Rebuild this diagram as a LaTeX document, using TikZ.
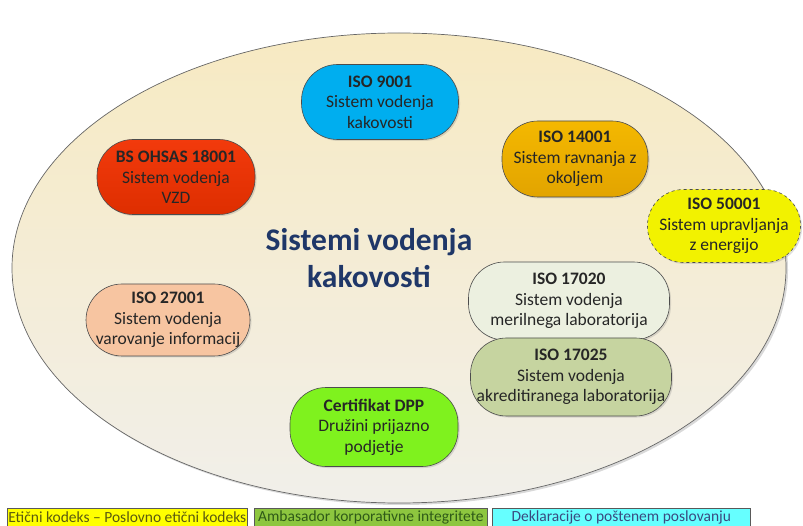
\documentclass[tikz,border=0pt]{standalone}
\usepackage{fontspec}
\setmainfont{Carlito}
\usetikzlibrary{shadows}
\definecolor{ellTop}{HTML}{F7EAC2}
\definecolor{ellBot}{HTML}{F1EFEA}
\definecolor{cBlue}{HTML}{00AEEF}
\definecolor{cGold}{HTML}{F4B800}
\definecolor{cGoldB}{HTML}{E2A400}
\definecolor{cRed}{HTML}{F23A0C}
\definecolor{cRedB}{HTML}{DE2E00}
\definecolor{cYel}{HTML}{F2F200}
\definecolor{cPale}{HTML}{ECF0E0}
\definecolor{cOlive}{HTML}{C6D4A0}
\definecolor{cPeach}{HTML}{F7C5A1}
\definecolor{cLime}{HTML}{7FF21E}
\definecolor{cTitle}{HTML}{1F3768}
\definecolor{bYel}{HTML}{FFFF00}
\definecolor{bGreen}{HTML}{8DC63F}
\definecolor{bCyan}{HTML}{66FFFF}
\definecolor{tYel}{HTML}{5A5A10}
\definecolor{tGreen}{HTML}{2F5A18}
\definecolor{tCyan}{HTML}{3A4A80}
\tikzset{
  pill/.style={draw=black!70, line width=0.6pt, rounded corners=36pt,
    align=center, inner sep=0pt, font=\fontsize{17.5}{20.5}\selectfont,
    text=black!85, drop shadow={shadow xshift=1.5pt, shadow yshift=-1.5pt, opacity=0.25}},
  legend/.style={draw=black!65, line width=0.6pt, inner sep=0pt, minimum height=18pt,
    font=\fontsize{15.5}{17}\selectfont}
}
\begin{document}
\begin{tikzpicture}[x=1pt,y=-1pt]
\useasboundingbox (0,0) rectangle (803,526);
% big ellipse
\path[drop shadow={shadow xshift=2pt, shadow yshift=-2pt, opacity=0.3}, top color=ellTop, bottom color=ellBot, draw=black!60, line width=0.7pt]
  (399,268) ellipse [x radius=387, y radius=235];
\node[font=\fontsize{31.5}{37}\selectfont\bfseries, text=cTitle, align=center] (title) at (369,258) {Sistemi vodenja\\kakovosti};
% pills
\node[pill, fill=cBlue, minimum width=157pt, minimum height=75pt] (iso9001) at (380,102)
  {\textbf{ISO 9001}\\Sistem vodenja\\kakovosti};
\node[pill, top color=cGold, bottom color=cGoldB, minimum width=146pt, minimum height=76pt] (iso14001) at (575,159)
  {\textbf{ISO 14001}\\Sistem ravnanja z\\okoljem};
\node[pill, top color=cRed, bottom color=cRedB, minimum width=158pt, minimum height=75pt] (ohsas) at (176,177)
  {\textbf{BS OHSAS 18001}\\Sistem vodenja\\VZD};
\node[pill, fill=cYel, dashed, minimum width=153pt, minimum height=73pt] (iso50001) at (724,226)
  {\textbf{ISO 50001}\\Sistem upravljanja\\z energijo};
\node[pill, fill=cPale, minimum width=201pt, minimum height=78pt] (iso17020) at (569,301)
  {\textbf{ISO 17020}\\Sistem vodenja\\merilnega laboratorija};
\node[pill, fill=cOlive, minimum width=201pt, minimum height=78pt] (iso17025) at (571,377)
  {\textbf{ISO 17025}\\Sistem vodenja\\akreditiranega laboratorija};
\node[pill, fill=cPeach, minimum width=164pt, minimum height=72pt] (iso27001) at (168,320)
  {\textbf{ISO 27001}\\Sistem vodenja\\varovanje informacij};
\node[pill, fill=cLime, minimum width=168pt, minimum height=79pt] (dpp) at (374,427)
  {\textbf{Certifikat DPP}\\Družini prijazno\\podjetje};
% legend boxes
\node[legend, fill=bYel, text=tYel, minimum width=240pt, anchor=west] (leg1) at (7,517)
  {Etični kodeks – Poslovno etični kodeks};
\node[legend, fill=bGreen, text=tGreen, minimum width=233pt, anchor=west] (leg2) at (254,517)
  {Ambasador korporativne integritete};
\node[legend, fill=bCyan, text=tCyan, minimum width=258pt, anchor=west] (leg3) at (492,517)
  {Deklaracije o poštenem poslovanju};
\end{tikzpicture}
\end{document}
